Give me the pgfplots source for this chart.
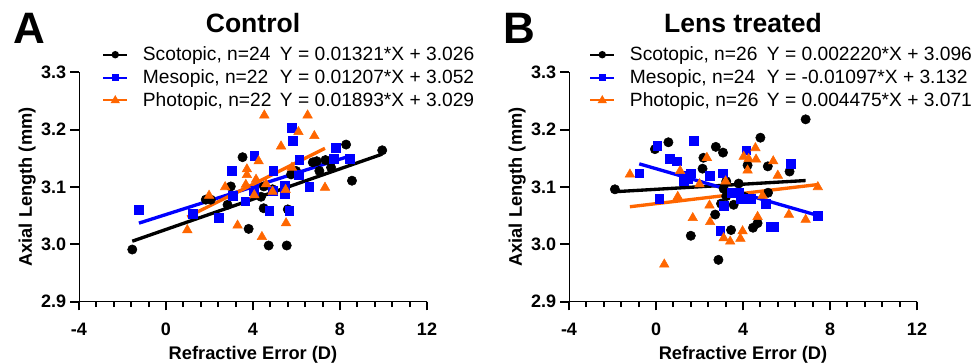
\documentclass[border=0pt]{standalone}
\usepackage{fontspec}
\setmainfont{Liberation Sans}
\usepackage{pgfplots}
\pgfplotsset{compat=1.18}
\definecolor{porange}{RGB}{255,102,0}
\definecolor{pblue}{RGB}{0,0,255}
\tikzset{axl/.style={line width=1.5pt, line cap=rect}, tk/.style={line width=1.5pt}}
\pgfplotsset{
 panel/.style={
  scale only axis, width=261pt, height=172.05pt,
  xmin=-4, xmax=12, ymin=2.9, ymax=3.3,
  enlargelimits=false,
  axis line style={draw=none},
  xtick pos=left, ytick pos=left,
  tick align=outside,
  major tick length=6.5pt, minor tick length=4pt,
  every tick/.append style={black, line width=1.5pt},
  major tick style={black, line width=1.5pt},
  minor tick style={black, line width=1.5pt},
  xtick={-4,0,4,8,12}, xticklabels={-4,0,4,8,12},
  ytick={2.9,3.0,3.1,3.2,3.3}, yticklabels={2.9,3.0,3.1,3.2,3.3},
  minor x tick num=4,
  x tick label style={font=\fontsize{13.5}{14}\selectfont\bfseries, inner sep=0pt, anchor=north, yshift=-9pt},
  y tick label style={font=\fontsize{13.5}{14}\selectfont\bfseries, inner sep=0pt, anchor=east, xshift=-3pt},
  xlabel={Refractive Error (D)}, ylabel={Axial Length (mm)},
  every axis x label/.style={at={(axis description cs:0.5,-0.254)}, anchor=base, font=\fontsize{13.7}{15}\selectfont\bfseries},
  every axis y label/.style={at={(axis description cs:-0.149,0.5)}, anchor=center, rotate=90, font=\fontsize{13.7}{15}\selectfont\bfseries},
  legend style={draw=none, fill=none, inner sep=0pt, anchor=north west, font=\fontsize{14.4}{17}\selectfont, row sep=5.2pt, nodes={inner sep=0pt}, /tikz/every odd column/.append style={column sep=11pt}},
  legend cell align=left,
  legend image code/.code={\draw[mark repeat=2,mark phase=2,#1] plot coordinates {(0pt,0pt) (9pt,0pt) (18pt,0pt)};},
 },
 sco/.style={only marks, mark=*, mark size=3.5pt, black, forget plot},
 mes/.style={only marks, mark=square*, mark size=3.3pt, pblue, forget plot},
 pho/.style={only marks, mark=triangle*, mark size=4.1pt, porange, forget plot},
 fit/.style={no marks, line width=2.5pt, forget plot},
}
\begin{document}
\begin{tikzpicture}
\path[use as bounding box] (0pt,0pt) rectangle (728.25pt,-273pt);
% ---------- Panel A ----------
\begin{axis}[panel, at={(59.25pt,-226.28pt)}, anchor=south west,
  legend style={at={(axis description cs:0.0661,1.1126)}}]
\addlegendimage{black, line width=1.5pt, mark=*, mark size=2pt}
\addlegendentry{\makebox[102.75pt][l]{Scotopic, n=24}Y = 0.01321*X + 3.026}
\addlegendimage{pblue, line width=1.5pt, mark=square*, mark size=1.9pt}
\addlegendentry{\makebox[102.75pt][l]{Mesopic, n=22}Y = 0.01207*X + 3.052}
\addlegendimage{porange, line width=1.5pt, mark=triangle*, mark size=2.5pt}
\addlegendentry{\makebox[102.75pt][l]{Photopic, n=22}Y = 0.01893*X + 3.029}
\draw[axl] (axis cs:-4,3.3) -- (axis cs:-4,2.9) -- (axis cs:12,2.9);
\draw[tk] (axis cs:-4,2.9) -- ++(0pt,-6.5pt);
\draw[tk] (axis cs:0,2.9) -- ++(0pt,-6.5pt);
\draw[tk] (axis cs:4,2.9) -- ++(0pt,-6.5pt);
\draw[tk] (axis cs:8,2.9) -- ++(0pt,-6.5pt);
\draw[tk] (axis cs:12,2.9) -- ++(0pt,-6.5pt);
\draw[tk] (axis cs:-4,2.9) -- ++(-5.5pt,0pt);
\draw[tk] (axis cs:-4,3.0) -- ++(-5.5pt,0pt);
\draw[tk] (axis cs:-4,3.1) -- ++(-5.5pt,0pt);
\draw[tk] (axis cs:-4,3.2) -- ++(-5.5pt,0pt);
\draw[tk] (axis cs:-4,3.3) -- ++(-5.5pt,0pt);
\addplot[sco] coordinates {
(-1.55,2.991) (3.52,3.152) (2.98,3.101) (1.83,3.078) (2.06,3.078) (2.83,3.069)
(3.80,3.027) (4.37,3.083) (4.49,3.063) (4.50,3.101) (4.72,2.998) (4.90,3.096)
(5.55,2.998) (5.60,3.061) (5.75,3.122) (5.98,3.128) (6.75,3.143) (6.93,3.145)
(7.05,3.128) (7.33,3.147) (7.59,3.134) (8.28,3.174) (8.55,3.111) (9.94,3.164)};
\addplot[mes] coordinates {
(-1.245,3.061) (1.245,3.054) (2.41,3.047) (3.03,3.128) (3.06,3.085) (3.64,3.075)
(4.06,3.155) (4.03,3.094) (4.75,3.058) (4.93,3.129) (4.90,3.094) (5.47,3.103)
(5.47,3.088) (5.67,3.058) (5.79,3.203) (5.82,3.180) (6.09,3.122) (6.13,3.148)
(6.59,3.100) (7.71,3.149) (7.82,3.168) (8.44,3.149)};
\addplot[pho] coordinates {
(0.98,3.025) (1.98,3.085) (2.72,3.100) (3.29,3.033) (3.72,3.131) (3.72,3.121)
(3.67,3.104) (4.14,3.113) (4.26,3.145) (4.41,3.013) (4.06,3.086) (4.52,3.225)
(5.29,3.171) (5.52,3.037) (5.79,3.134) (6.09,3.196) (6.51,3.225) (6.82,3.189)
(7.31,3.099) (4.90,3.092) (5.50,3.095) (4.60,3.105)};
\addplot[fit, black] coordinates {(-1.55,3.0055) (9.94,3.1573)};
\addplot[fit, pblue] coordinates {(-1.245,3.0370) (8.44,3.1539)};
\addplot[fit, porange] coordinates {(0.98,3.0476) (7.31,3.1674)};
\end{axis}
% ---------- Panel B ----------
\begin{axis}[panel, at={(426.75pt,-226.28pt)}, anchor=south west,
  legend style={at={(axis description cs:0.0575,1.1126)}}]
\addlegendimage{black, line width=1.5pt, mark=*, mark size=2pt}
\addlegendentry{\makebox[102.75pt][l]{Scotopic, n=26}Y = 0.002220*X + 3.096}
\addlegendimage{pblue, line width=1.5pt, mark=square*, mark size=1.9pt}
\addlegendentry{\makebox[102.75pt][l]{Mesopic, n=24}Y = -0.01097*X + 3.132}
\addlegendimage{porange, line width=1.5pt, mark=triangle*, mark size=2.5pt}
\addlegendentry{\makebox[102.75pt][l]{Photopic, n=26}Y = 0.004475*X + 3.071}
\draw[axl] (axis cs:-4,3.3) -- (axis cs:-4,2.9) -- (axis cs:12,2.9);
\draw[tk] (axis cs:-4,2.9) -- ++(0pt,-6.5pt);
\draw[tk] (axis cs:0,2.9) -- ++(0pt,-6.5pt);
\draw[tk] (axis cs:4,2.9) -- ++(0pt,-6.5pt);
\draw[tk] (axis cs:8,2.9) -- ++(0pt,-6.5pt);
\draw[tk] (axis cs:12,2.9) -- ++(0pt,-6.5pt);
\draw[tk] (axis cs:-4,2.9) -- ++(-5.5pt,0pt);
\draw[tk] (axis cs:-4,3.0) -- ++(-5.5pt,0pt);
\draw[tk] (axis cs:-4,3.1) -- ++(-5.5pt,0pt);
\draw[tk] (axis cs:-4,3.2) -- ++(-5.5pt,0pt);
\draw[tk] (axis cs:-4,3.3) -- ++(-5.5pt,0pt);
\addplot[sco] coordinates {
(-1.89,3.096) (-0.05,3.166) (0.57,3.178) (2.18,3.151) (2.14,3.132) (2.75,3.170)
(3.08,3.160) (2.72,3.052) (1.60,3.015) (2.87,2.973) (3.23,3.110) (3.11,3.097)
(3.23,3.084) (2.99,3.071) (3.57,3.069) (3.45,3.025) (3.80,3.106) (4.06,3.083)
(4.21,3.138) (4.46,3.029) (4.67,3.037) (4.80,3.186) (5.14,3.136) (5.15,3.090)
(6.14,3.127) (6.88,3.218)};
\addplot[mes] coordinates {
(-0.77,3.124) (0.06,3.172) (0.63,3.149) (0.96,3.145) (1.72,3.180) (1.26,3.120)
(1.26,3.110) (1.60,3.124) (0.15,3.079) (2.49,3.119) (3.08,3.124) (3.11,3.067)
(2.95,3.024) (3.80,3.090) (3.91,3.079) (4.15,3.164) (4.37,3.080) (5.03,3.071)
(5.26,3.030) (5.41,3.030) (6.18,3.141) (7.42,3.050) (1.45,3.115) (3.50,3.090)};
\addplot[pho] coordinates {
(-1.20,3.122) (1.00,3.083) (1.11,3.128) (0.38,2.965) (1.69,3.046) (2.34,3.151)
(2.46,3.068) (2.49,3.039) (3.11,3.011) (3.41,3.005) (3.88,3.010) (3.98,3.023)
(4.03,3.153) (4.21,3.129) (4.57,3.168) (4.60,3.148) (4.67,3.048) (5.39,3.145)
(5.60,3.120) (6.11,3.052) (6.88,3.043) (7.44,3.100) (4.26,3.149) (3.20,3.110)
(2.00,3.105) (4.90,3.085)};
\addplot[fit, black] coordinates {(-1.89,3.0918) (6.88,3.1113)};
\addplot[fit, pblue] coordinates {(-0.77,3.1404) (7.42,3.0506)};
\addplot[fit, porange] coordinates {(-1.20,3.0656) (7.44,3.1043)};
\end{axis}
% ---------- titles and panel letters ----------
\node[anchor=base, inner sep=0pt, font=\fontsize{19.9}{22}\selectfont\bfseries] at (189.75pt,-24pt) {Control};
\node[anchor=base, inner sep=0pt, font=\fontsize{19.9}{22}\selectfont\bfseries] at (557.25pt,-24pt) {Lens treated};
\node[anchor=base west, inner sep=0pt, font=\fontsize{33}{35}\selectfont\bfseries] at (9.75pt,-32.25pt) {A};
\node[anchor=base west, inner sep=0pt, font=\fontsize{33}{35}\selectfont\bfseries] at (377.25pt,-32.25pt) {B};
\end{tikzpicture}
\end{document}
